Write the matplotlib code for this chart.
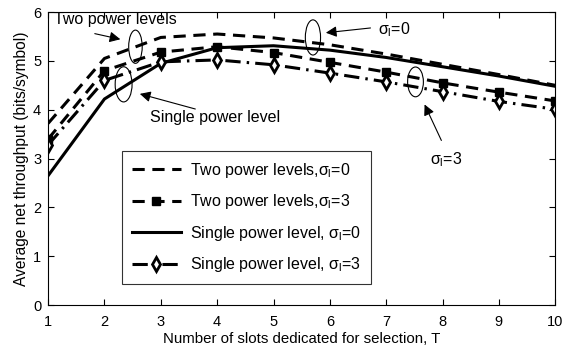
import matplotlib
matplotlib.use("Agg")
import matplotlib.pyplot as plt
from matplotlib.patches import Ellipse

plt.rcParams["font.family"] = ["Liberation Sans", "DejaVu Sans"]
plt.rcParams["mathtext.fontset"] = "custom"
plt.rcParams["mathtext.rm"] = "Liberation Sans"
plt.rcParams["mathtext.it"] = "Liberation Sans"
plt.rcParams["mathtext.sf"] = "Liberation Sans"

T = [1, 2, 3, 4, 5, 6, 7, 8, 9, 10]
two_s0 = [3.72, 5.05, 5.48, 5.55, 5.47, 5.33, 5.14, 4.93, 4.72, 4.50]
two_s3 = [3.40, 4.80, 5.18, 5.29, 5.17, 4.97, 4.77, 4.55, 4.36, 4.18]
single_s0 = [2.65, 4.22, 4.95, 5.27, 5.31, 5.22, 5.07, 4.88, 4.69, 4.48]
single_s3 = [3.28, 4.60, 4.98, 5.02, 4.92, 4.75, 4.57, 4.37, 4.17, 4.01]

labels = [r"Two power levels,$\sigma_\mathrm{l}$=0",
          r"Two power levels,$\sigma_\mathrm{l}$=3",
          r"Single power level, $\sigma_\mathrm{l}$=0",
          r"Single power level, $\sigma_\mathrm{l}$=3"]

fig = plt.figure(figsize=(5.66, 3.54), dpi=100)
ax = fig.add_axes([0.085, 0.138, 0.896, 0.828])

ax.plot(T, two_s0, color="k", lw=2.2, dashes=(4, 2.5), label=labels[0])
ax.plot(T, two_s3, color="k", lw=2.2, dashes=(4, 2.5), marker="s",
        markersize=6, markerfacecolor="k", label=labels[1])
ax.plot(T, single_s0, color="k", lw=2.2, linestyle="-", label=labels[2])
ax.plot(T, single_s3, color="k", lw=2.2, dashes=(5, 2, 0.8, 2), marker="d",
        markersize=7, markerfacecolor="w", markeredgewidth=2, label=labels[3])

# ellipses marking the curve groups
for cx, cy, w, h in [(2.55, 5.29, 0.24, 0.68), (2.34, 4.52, 0.30, 0.72),
                     (5.70, 5.48, 0.27, 0.72), (7.52, 4.57, 0.28, 0.61)]:
    ax.add_patch(Ellipse((cx, cy), w, h, fill=False, color="k", lw=0.8))

fs = 11.5
arrow = dict(arrowstyle="-|>", color="k", lw=0.8, mutation_scale=16)
ax.text(1.1, 5.84, "Two power levels", fontsize=fs, va="center")
ax.annotate("", xy=(2.33, 5.43), xytext=(1.78, 5.57), arrowprops=arrow)
ax.text(2.81, 3.85, "Single power level", fontsize=fs, va="center")
ax.annotate("", xy=(2.58, 4.34), xytext=(3.66, 4.0), arrowprops=arrow)
ax.text(6.86, 5.64, r"$\sigma_\mathrm{l}$=0", fontsize=fs, va="center")
ax.annotate("", xy=(5.88, 5.57), xytext=(6.77, 5.68), arrowprops=arrow)
ax.text(7.77, 2.97, r"$\sigma_\mathrm{l}$=3", fontsize=fs, va="center")
ax.annotate("", xy=(7.66, 4.16), xytext=(8.0, 3.32), arrowprops=arrow)

ax.set_xlim(1, 10)
ax.set_ylim(0, 6)
ax.set_xticks(T)
ax.set_yticks(range(0, 7))
ax.tick_params(direction="in", top=True, right=True, labelsize=10.5, length=4)
ax.tick_params(axis="x", pad=7)
ax.tick_params(axis="y", pad=5)
ax.set_xlabel("Number of slots dedicated for selection, T", fontsize=10.8, labelpad=2)
ax.set_ylabel("Average net throughput (bits/symbol)", fontsize=11.2, labelpad=3)

leg = ax.legend(loc="lower left", bbox_to_anchor=(0.13, 0.045), fontsize=fs,
                handlelength=3.1, handletextpad=0.55, frameon=True,
                fancybox=False, edgecolor="k", borderpad=0.6, labelspacing=0.78)
leg.get_frame().set_linewidth(0.8)

fig.savefig("out.png", dpi=100)
